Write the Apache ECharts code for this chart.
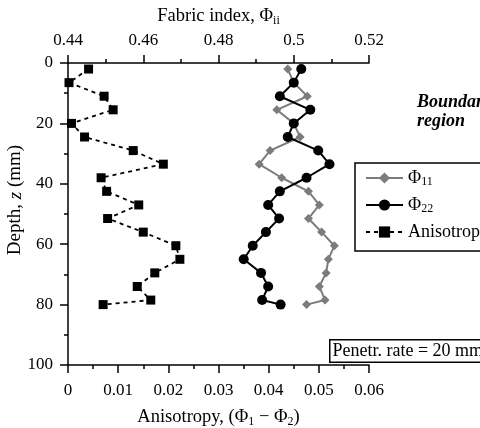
<!DOCTYPE html>
<html>
<head>
<meta charset="utf-8">
<script src="https://cdn.jsdelivr.net/npm/echarts@6/dist/echarts.min.js"></script>
<style>
html,body{margin:0;padding:0;background:#fff;}
#chart{width:480px;height:428px;}
</style>
</head>
<body>
<div id="chart"></div>
<script>
// Depth of each measurement (mm)
var depths = [2, 6.5, 11, 15.5, 20, 24.5, 29, 33.5, 38, 42.5, 47, 51.5, 56, 60.5, 65, 69.5, 74, 78.5, 80];
// Fabric index Phi_11 (top axis)
var phi11 = [0.4984, 0.5000, 0.5036, 0.4955, 0.5000, 0.5017, 0.4937, 0.4908, 0.4968, 0.5039, 0.5068, 0.5039, 0.5074, 0.5108, 0.5092, 0.5086, 0.5068, 0.5083, 0.5034];
// Fabric index Phi_22 (top axis)
var phi22 = [0.5020, 0.5000, 0.4963, 0.5044, 0.5000, 0.4984, 0.5065, 0.5095, 0.5034, 0.4963, 0.4932, 0.4961, 0.4926, 0.4891, 0.4867, 0.4913, 0.4932, 0.4916, 0.4965];
// Anisotropy (bottom axis)
var anisotropy = [0.0041, 0.0002, 0.0072, 0.0090, 0.0007, 0.0033, 0.0130, 0.0190, 0.0066, 0.0077, 0.0141, 0.0079, 0.0150, 0.0215, 0.0223, 0.0173, 0.0138, 0.0165, 0.0070];
// Tick labels
var bottomTicks = ['0', '0.01', '0.02', '0.03', '0.04', '0.05', '0.06'];
var topTicks = ['0.44', '0.46', '0.48', '0.5', '0.52'];
var depthTicks = ['0', '20', '40', '60', '80', '100'];

function pairs(xs) { return xs.map(function (v, i) { return [v, depths[i]]; }); }

var FONT = '"Liberation Serif", "DejaVu Serif", serif';
var subRich = {
  sub: { fontSize: 12, fontFamily: FONT, color: '#000', padding: [10, 0, 0, 0] }
};
var legendRich = {
  sub: { fontSize: 12, fontFamily: FONT, color: '#000', lineHeight: 13, verticalAlign: 'bottom' }
};
var axisCommon = {
  axisLine: { show: true, onZero: false, lineStyle: { color: '#000', width: 1.5 } },
  axisTick: { show: true, inside: false, length: 8, lineStyle: { color: '#000', width: 1.5 } },
  minorTick: { show: true, splitNumber: 2, length: 4, lineStyle: { color: '#000', width: 1.5 } },
  splitLine: { show: false }
};
function ax(extra) { return Object.assign({}, axisCommon, extra); }

var chart = echarts.init(document.getElementById('chart'));
var option = {
  animation: false,
  backgroundColor: '#fff',
  textStyle: { fontFamily: FONT, color: '#000' },
  grid: { left: 68, right: 111, top: 63, bottom: 63, containLabel: false, outerBoundsMode: 'none' },
  xAxis: [
    ax({
      type: 'value', position: 'bottom', min: 0, max: 0.06, interval: 0.01,
      name: 'Anisotropy, (Φ{sub|1} − Φ{sub|2})', nameLocation: 'middle', nameGap: 41,
      nameTextStyle: { fontSize: 18.5, fontFamily: FONT, color: '#000', rich: subRich },
      axisLabel: { fontSize: 17, fontFamily: FONT, color: '#000', margin: 17,
        formatter: function (v) { return bottomTicks[Math.round(v / 0.01)]; } }
    }),
    ax({
      type: 'value', position: 'top', min: 0.44, max: 0.52, interval: 0.02,
      name: 'Fabric index, Φ{sub|ii}', nameLocation: 'middle', nameGap: 34,
      nameTextStyle: { fontSize: 18.5, fontFamily: FONT, color: '#000', rich: subRich },
      axisLabel: { fontSize: 17, fontFamily: FONT, color: '#000', margin: 14,
        formatter: function (v) { return topTicks[Math.round((v - 0.44) / 0.02)]; } }
    })
  ],
  yAxis: ax({
    type: 'value', inverse: true, min: 0, max: 100, interval: 20,
    name: 'Depth, {it|z} (mm)', nameLocation: 'middle', nameGap: 43, nameRotate: 90,
    nameMoveOverlap: false,
    nameTextStyle: { fontSize: 19, fontFamily: FONT, color: '#000', padding: [0, 0, 0, 28],
      rich: { it: { fontSize: 19, fontStyle: 'italic', fontFamily: FONT, color: '#000' } } },
    axisLabel: { fontSize: 17, fontFamily: FONT, color: '#000', margin: 15,
      formatter: function (v) { return depthTicks[Math.round(v / 20)]; } }
  }),
  legend: {
    left: 355, top: 163, orient: 'vertical',
    padding: [5, 40, 9, 10],
    itemWidth: 37, itemHeight: 14, itemGap: 7,
    borderColor: '#000', borderWidth: 1.5, borderRadius: 0,
    backgroundColor: '#fff',
    textStyle: { fontSize: 18, fontFamily: FONT, color: '#000', lineHeight: 20, rich: legendRich },
    formatter: function (name) {
      if (name === 'Phi11') return 'Φ{sub|11}';
      if (name === 'Phi22') return 'Φ{sub|22}';
      return 'Anisotropy';
    },
    data: ['Phi11', 'Phi22', 'Anisotropy']
  },
  series: [
    {
      name: 'Phi11', type: 'line', xAxisIndex: 1, data: pairs(phi11),
      symbol: 'diamond', symbolSize: 9,
      itemStyle: { color: '#7c7c7c' },
      lineStyle: { color: '#7c7c7c', width: 2 }
    },
    {
      name: 'Phi22', type: 'line', xAxisIndex: 1, data: pairs(phi22),
      symbol: 'circle', symbolSize: 10,
      itemStyle: { color: '#000' },
      lineStyle: { color: '#000', width: 2 }
    },
    {
      name: 'Anisotropy', type: 'line', xAxisIndex: 0, data: pairs(anisotropy),
      symbol: 'rect', symbolSize: 9,
      itemStyle: { color: '#000' },
      lineStyle: { color: '#000', width: 1.8, type: [4, 4] }
    }
  ],
  graphic: [
    {
      type: 'text', left: 417, top: 93,
      style: { text: 'Boundary\nregion', font: 'italic bold 18px ' + FONT, fill: '#000', lineHeight: 19 }
    },
    {
      type: 'text', left: 329, top: 339,
      style: { text: 'Penetr. rate = 20 mm', font: '18px ' + FONT, fill: '#000',
        padding: [1, 2, 0, 2], lineHeight: 20, borderColor: '#000', borderWidth: 1.5, backgroundColor: '#fff' }
    }
  ]
};
chart.setOption(option);
</script>
</body>
</html>
